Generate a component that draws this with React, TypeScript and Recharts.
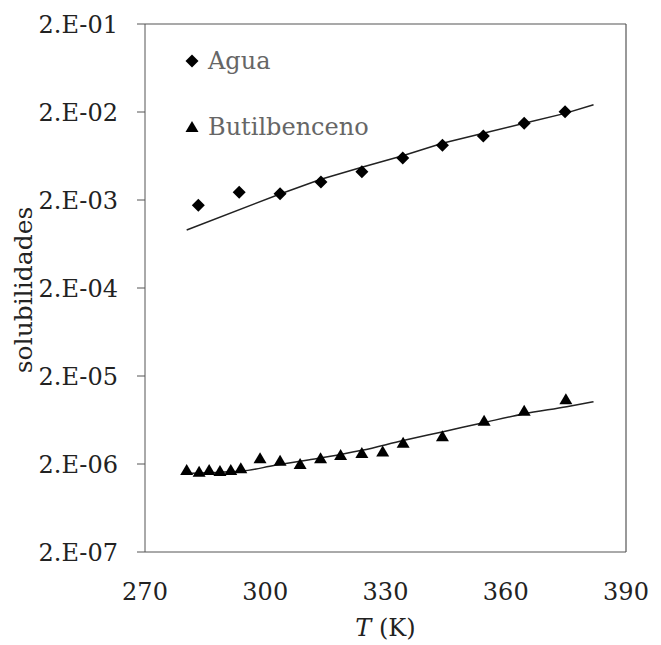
import React from 'react';
import {
  ComposedChart, Scatter, Line, XAxis, YAxis, ReferenceLine,
} from 'recharts';

// Agua experimental points
const aguaT = [283.3, 293.5, 303.7, 313.9, 324.1, 334.3, 344.2, 354.4, 364.6, 374.8];
const aguaS = [1.74e-3, 2.45e-3, 2.36e-3, 3.21e-3, 4.19e-3, 6.0e-3, 8.37e-3, 1.067e-2, 1.49e-2, 2.01e-2];
// Agua model line
const aguaLineT = [280.4, 303.7, 313.9, 324.1, 334.3, 344.2, 354.4, 364.6, 374.8, 381.9];
const aguaLineS = [9.12e-4, 2.34e-3, 3.44e-3, 4.71e-3, 6.37e-3, 8.82e-3, 1.146e-2, 1.49e-2, 1.93e-2, 2.42e-2];

// Butilbenceno experimental points
const butT = [280.4, 283.5, 286.0, 288.7, 291.4, 293.9, 298.7, 303.7, 308.7, 313.8, 318.8, 324.1, 329.3, 334.4, 344.2, 354.6, 364.6, 375.0];
const butS = [1.71e-6, 1.63e-6, 1.71e-6, 1.66e-6, 1.71e-6, 1.79e-6, 2.32e-6, 2.18e-6, 2.0e-6, 2.32e-6, 2.53e-6, 2.67e-6, 2.77e-6, 3.49e-6, 4.13e-6, 6.21e-6, 8.07e-6, 1.09e-5];
// Butilbenceno model line
const butLineT = [279.2, 294.1, 302.4, 310.7, 319.1, 324.1, 334.4, 344.4, 354.4, 364.4, 375.2, 381.9];
const butLineS = [1.56e-6, 1.66e-6, 1.93e-6, 2.22e-6, 2.58e-6, 2.86e-6, 3.7e-6, 4.66e-6, 5.89e-6, 7.40e-6, 8.95e-6, 1.02e-5];

const xTicks = [270, 300, 330, 360, 390];
const yTicks = [2e-7, 2e-6, 2e-5, 2e-4, 2e-3, 2e-2, 2e-1];
const yTickLabels = ['2.E-07', '2.E-06', '2.E-05', '2.E-04', '2.E-03', '2.E-02', '2.E-01'];

const seriesNames = ['Agua', 'Butilbenceno'];

const toPts = (xs: number[], ys: number[]) => xs.map((x, i) => ({ T: x, s: ys[i] }));

const aguaData = toPts(aguaT, aguaS);
const aguaLine = toPts(aguaLineT, aguaLineS);
const butData = toPts(butT, butS);
const butLine = toPts(butLineT, butLineS);

const FONT = '"DejaVu Serif", serif';

const Diamond = (props: any) => {
  const { cx, cy } = props;
  const r = 6.5;
  return <path d={`M${cx},${cy - r}L${cx + r},${cy}L${cx},${cy + r}L${cx - r},${cy}Z`} fill="#000" />;
};

const Triangle = (props: any) => {
  const { cx, cy } = props;
  const w = 6.5, h = 11;
  return <path d={`M${cx},${cy - h * 0.55}L${cx + w},${cy + h * 0.45}L${cx - w},${cy + h * 0.45}Z`} fill="#000" />;
};

const LegendBox = () => (
  <svg width={260} height={120} style={{ position: 'absolute', left: 180, top: 45, overflow: 'visible' }}>
    <Diamond cx={12} cy={16} />
    <text x={28} y={16} dominantBaseline="central" fontFamily={FONT} fontSize={24} fill="#666">{seriesNames[0]}</text>
    <Triangle cx={12} cy={82} />
    <text x={28} y={82} dominantBaseline="central" fontFamily={FONT} fontSize={24} fill="#666">{seriesNames[1]}</text>
  </svg>
);

export default function App() {
  return (
    <div style={{ position: 'absolute', left: 0, top: 0, width: 661, height: 645 }}>
      <ComposedChart width={661} height={645} margin={{ top: 24, right: 35, bottom: 63, left: 0 }}>
        <XAxis
          dataKey="T"
          type="number"
          domain={[270, 390]}
          ticks={xTicks}
          allowDataOverflow
          height={30}
          tickLine={false}
          tickSize={0}
          tickMargin={31}
          stroke="#555"
          tick={{ fill: '#222', fontFamily: FONT, fontSize: 24 }}
          label={(p: any) => {
            const vb = p.viewBox;
            return (
              <text x={vb.x + vb.width / 2} y={628} textAnchor="middle" dominantBaseline="central" fontFamily={FONT} fontSize={24} fill="#222">
                <tspan fontStyle="italic">T</tspan> (K)
              </text>
            );
          }}
        />
        <YAxis
          dataKey="s"
          type="number"
          scale="log"
          domain={[2e-7, 0.2]}
          ticks={yTicks}
          allowDataOverflow
          width={145}
          tickSize={8}
          tickMargin={19}
          stroke="#555"
          tick={{ fill: '#222', fontFamily: FONT, fontSize: 24 }}
          tickFormatter={(v: number) => {
            const i = yTicks.findIndex((t) => Math.abs(Math.log10(t) - Math.log10(v)) < 1e-6);
            return i >= 0 ? yTickLabels[i] : '';
          }}
          label={() => (
            <text x={23} y={290} transform="rotate(-90 23 290)" textAnchor="middle" dominantBaseline="central" fontFamily={FONT} fontSize={25} fill="#222">
              solubilidades
            </text>
          )}
        />
        <ReferenceLine y={0.2} stroke="#555" strokeWidth={1.2} />
        <ReferenceLine x={390} stroke="#555" strokeWidth={1.2} />
        <Line data={aguaLine} dataKey="s" type="linear" stroke="#222" strokeWidth={1.5} dot={false} isAnimationActive={false} />
        <Line data={butLine} dataKey="s" type="monotone" stroke="#222" strokeWidth={1.5} dot={false} isAnimationActive={false} />
        <Scatter data={aguaData} dataKey="s" name={seriesNames[0]} shape={Diamond} isAnimationActive={false} />
        <Scatter data={butData} dataKey="s" name={seriesNames[1]} shape={Triangle} isAnimationActive={false} />
      </ComposedChart>
      <LegendBox />
    </div>
  );
}
